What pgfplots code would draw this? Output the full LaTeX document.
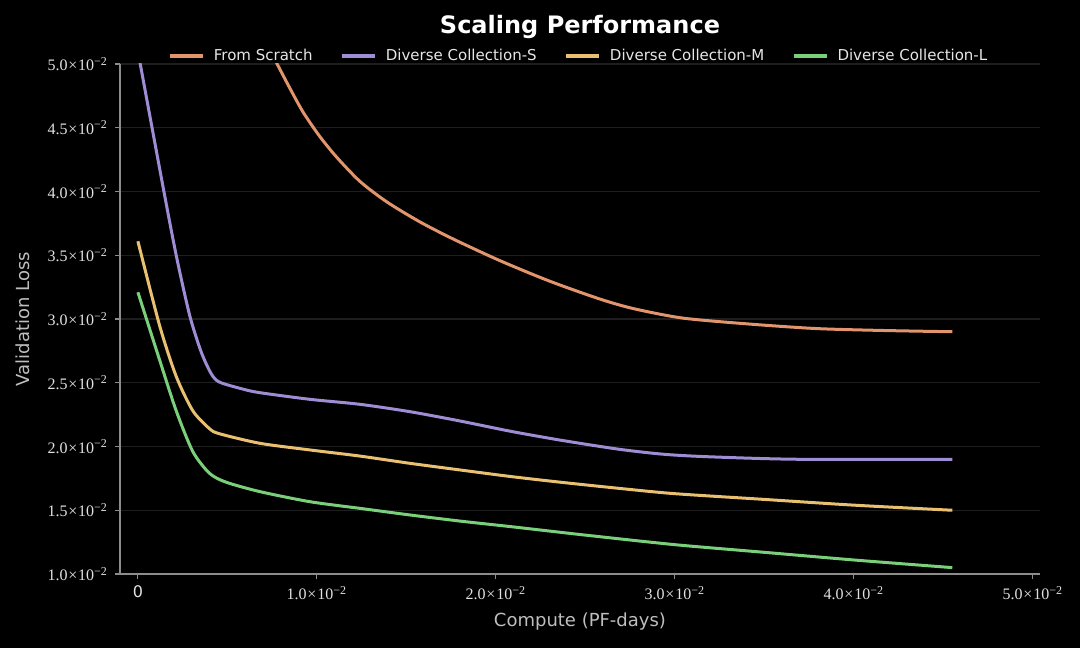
\documentclass[border=0pt]{standalone}
\usepackage{fontspec}
\setmainfont{DejaVu Sans}
\newfontfamily\tickfont{Liberation Serif}
\usepackage{pgfplots}
\pgfplotsset{compat=1.18}
\definecolor{cScratch}{RGB}{226,148,108}
\definecolor{cS}{RGB}{158,140,212}
\definecolor{cM}{RGB}{232,192,112}
\definecolor{cL}{RGB}{122,208,122}
\definecolor{gridc}{RGB}{30,30,30}
\definecolor{spinec}{RGB}{140,140,140}
\definecolor{tickc}{RGB}{225,225,225}
\definecolor{labc}{RGB}{190,190,190}
\definecolor{legc}{RGB}{230,230,230}
\newcommand{\sci}[1]{{\tickfont #1\kern0.4pt×\kern0.4pt10\textsuperscript{−2}}}

\pgfplotstableread{
x y
0.0072 0.0516
0.00778 0.0500
0.00849 0.0481
0.00924 0.0462
0.01017 0.0443
0.0111 0.0427
0.0124 0.0408
0.01389 0.0392
0.01575 0.03762
0.01762 0.03627
0.02022 0.03458
0.0230 0.03297
0.0258 0.03157
0.0277 0.03081
0.03045 0.03007
0.0342 0.0296
0.0379 0.02925
0.0416 0.0291
0.0455 0.0290
}\scratch

\pgfplotstableread{
x y
0 0.0510
0.0014 0.0404
0.00214 0.0350
0.00289 0.0303
0.00354 0.0274
0.0041 0.0257
0.00456 0.02505
0.00587 0.0245
0.00682 0.02422
0.00961 0.0237
0.0124 0.02331
0.0152 0.02273
0.0180 0.0220
0.0208 0.0212
0.0236 0.0205
0.0268 0.0198
0.0293 0.0194
0.0318 0.0192
0.0368 0.0190
0.0455 0.0190
}\divS

\pgfplotstableread{
x y
0 0.0361
0.00121 0.0295
0.00214 0.0255
0.00307 0.0228
0.0040 0.0214
0.00456 0.0210
0.00682 0.02025
0.00961 0.01973
0.0124 0.01925
0.0152 0.01868
0.0180 0.01816
0.0208 0.01765
0.0236 0.0172
0.0270 0.0167
0.0300 0.0163
0.0350 0.01585
0.0400 0.0154
0.0455 0.0150
}\divM

\pgfplotstableread{
x y
0 0.0321
0.00121 0.0268
0.00214 0.0228
0.00307 0.0196
0.0040 0.0179
0.00493 0.0172
0.00682 0.01646
0.00961 0.01567
0.0124 0.01515
0.0152 0.01463
0.0180 0.01415
0.0208 0.01372
0.0250 0.01305
0.0300 0.0123
0.0350 0.0117
0.0400 0.0111
0.0455 0.0105
}\divL

\begin{document}
\begin{tikzpicture}
\fill[black] (-60pt,-37pt) rectangle (480pt,287pt);
\begin{axis}[
  at={(0,0)}, anchor=south west,
  scale only axis, width=460pt, height=255pt,
  xmin=-0.001, xmax=0.0504, ymin=0.01, ymax=0.05,
  axis x line*=bottom, axis y line*=left,
  axis line style={draw=spinec, line width=0.6pt, -},
  tick align=outside, major tick length=2.5pt,
  tick style={draw=spinec, line width=0.6pt},
  scaled x ticks=false, scaled y ticks=false,
  xtick={0,0.01,0.02,0.03,0.04,0.05},
  xticklabels={0,\sci{1.0},\sci{2.0},\sci{3.0},\sci{4.0},\sci{5.0}},
  ytick={0.01,0.015,0.02,0.025,0.03,0.035,0.04,0.045,0.05},
  yticklabels={\sci{1.0},\sci{1.5},\sci{2.0},\sci{2.5},\sci{3.0},\sci{3.5},\sci{4.0},\sci{4.5},\sci{5.0}},
  ticklabel style={color=tickc, font=\fontsize{8}{9}\selectfont},
  ymajorgrids, grid style={draw=gridc, line width=0.6pt},
  xlabel={Compute (PF-days)},
  xlabel style={at={(axis description cs:0.5,-0.094)}, anchor=center, color=labc, font=\fontsize{9}{10}\selectfont},
  ylabel={Validation Loss},
  ylabel style={at={(axis description cs:-0.1054,0.5)}, anchor=center, color=labc, font=\fontsize{9}{10}\selectfont},
  title={\textbf{Scaling Performance}},
  title style={at={(axis description cs:0.5,1.0725)}, anchor=center, yshift=-6pt, color=white, font=\fontsize{12}{14}\selectfont},
  legend columns=-1,
  legend style={at={(axis description cs:0.5,1.0157)}, anchor=center, draw=none, fill=none,
    text=legc, font=\fontsize{7.5}{9}\selectfont,
    /tikz/every even column/.append style={column sep=12pt}},
  legend image code/.code={\draw[#1, line width=1.7pt] (0pt,0pt) -- (16.5pt,0pt); \path (19pt,0pt);},
  every axis plot/.append style={line width=1.5pt, smooth, tension=0.45},
]
\addplot[cScratch, no markers] table[x=x,y=y] {\scratch};
\addlegendentry{From Scratch}
\addplot[cS, no markers] table[x=x,y=y] {\divS};
\addlegendentry{Diverse Collection-S}
\addplot[cM, no markers] table[x=x,y=y] {\divM};
\addlegendentry{Diverse Collection-M}
\addplot[cL, no markers] table[x=x,y=y] {\divL};
\addlegendentry{Diverse Collection-L}
\end{axis}
\pgfresetboundingbox
\path (-60pt,-37pt) rectangle (480pt,287pt);
\end{tikzpicture}
\end{document}
